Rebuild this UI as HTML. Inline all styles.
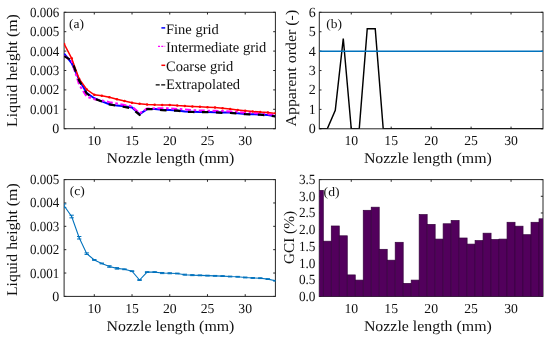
<!DOCTYPE html>
<html><head><meta charset="utf-8"><style>
html,body{margin:0;padding:0;background:#fff;width:550px;height:341px;overflow:hidden;position:relative}
svg{text-rendering:geometricPrecision;will-change:transform}
</style></head><body>
<svg width="550" height="341" viewBox="0 0 550 341" style="position:absolute;left:0;top:0">
<g font-family='"Liberation Serif", serif' fill="#111">
<rect x="64.10" y="12.30" width="211.30" height="116.40" fill="none" stroke="#262626" stroke-width="1"/>
<line x1="94.29" y1="128.70" x2="94.29" y2="126.50" stroke="#262626" stroke-width="1"/>
<line x1="94.29" y1="12.30" x2="94.29" y2="14.50" stroke="#262626" stroke-width="1"/>
<text x="94.29" y="145.10" text-anchor="middle" font-size="13.7">10</text>
<line x1="132.02" y1="128.70" x2="132.02" y2="126.50" stroke="#262626" stroke-width="1"/>
<line x1="132.02" y1="12.30" x2="132.02" y2="14.50" stroke="#262626" stroke-width="1"/>
<text x="132.02" y="145.10" text-anchor="middle" font-size="13.7">15</text>
<line x1="169.75" y1="128.70" x2="169.75" y2="126.50" stroke="#262626" stroke-width="1"/>
<line x1="169.75" y1="12.30" x2="169.75" y2="14.50" stroke="#262626" stroke-width="1"/>
<text x="169.75" y="145.10" text-anchor="middle" font-size="13.7">20</text>
<line x1="207.48" y1="128.70" x2="207.48" y2="126.50" stroke="#262626" stroke-width="1"/>
<line x1="207.48" y1="12.30" x2="207.48" y2="14.50" stroke="#262626" stroke-width="1"/>
<text x="207.48" y="145.10" text-anchor="middle" font-size="13.7">25</text>
<line x1="245.21" y1="128.70" x2="245.21" y2="126.50" stroke="#262626" stroke-width="1"/>
<line x1="245.21" y1="12.30" x2="245.21" y2="14.50" stroke="#262626" stroke-width="1"/>
<text x="245.21" y="145.10" text-anchor="middle" font-size="13.7">30</text>
<line x1="64.10" y1="128.70" x2="66.30" y2="128.70" stroke="#262626" stroke-width="1"/>
<line x1="275.40" y1="128.70" x2="273.20" y2="128.70" stroke="#262626" stroke-width="1"/>
<text x="59.30" y="133.20" text-anchor="end" font-size="14.0">0</text>
<line x1="64.10" y1="109.30" x2="66.30" y2="109.30" stroke="#262626" stroke-width="1"/>
<line x1="275.40" y1="109.30" x2="273.20" y2="109.30" stroke="#262626" stroke-width="1"/>
<text x="59.30" y="113.80" text-anchor="end" font-size="14.0" textLength="29.30" lengthAdjust="spacingAndGlyphs">0.001</text>
<line x1="64.10" y1="89.90" x2="66.30" y2="89.90" stroke="#262626" stroke-width="1"/>
<line x1="275.40" y1="89.90" x2="273.20" y2="89.90" stroke="#262626" stroke-width="1"/>
<text x="59.30" y="94.40" text-anchor="end" font-size="14.0" textLength="29.30" lengthAdjust="spacingAndGlyphs">0.002</text>
<line x1="64.10" y1="70.50" x2="66.30" y2="70.50" stroke="#262626" stroke-width="1"/>
<line x1="275.40" y1="70.50" x2="273.20" y2="70.50" stroke="#262626" stroke-width="1"/>
<text x="59.30" y="75.00" text-anchor="end" font-size="14.0" textLength="29.30" lengthAdjust="spacingAndGlyphs">0.003</text>
<line x1="64.10" y1="51.10" x2="66.30" y2="51.10" stroke="#262626" stroke-width="1"/>
<line x1="275.40" y1="51.10" x2="273.20" y2="51.10" stroke="#262626" stroke-width="1"/>
<text x="59.30" y="55.60" text-anchor="end" font-size="14.0" textLength="29.30" lengthAdjust="spacingAndGlyphs">0.004</text>
<line x1="64.10" y1="31.70" x2="66.30" y2="31.70" stroke="#262626" stroke-width="1"/>
<line x1="275.40" y1="31.70" x2="273.20" y2="31.70" stroke="#262626" stroke-width="1"/>
<text x="59.30" y="36.20" text-anchor="end" font-size="14.0" textLength="29.30" lengthAdjust="spacingAndGlyphs">0.005</text>
<line x1="64.10" y1="12.30" x2="66.30" y2="12.30" stroke="#262626" stroke-width="1"/>
<line x1="275.40" y1="12.30" x2="273.20" y2="12.30" stroke="#262626" stroke-width="1"/>
<text x="59.30" y="16.80" text-anchor="end" font-size="14.0" textLength="29.30" lengthAdjust="spacingAndGlyphs">0.006</text>
<text x="106.50" y="162.90" font-size="15" textLength="127.90" lengthAdjust="spacingAndGlyphs">Nozzle length (mm)</text>
<clipPath id="ca"><rect x="64.1" y="12.3" width="211.29999999999998" height="116.39999999999999"/></clipPath>
<g clip-path="url(#ca)">
<polyline points="64.10,53.62 71.65,63.13 79.19,79.81 86.74,93.00 94.29,98.24 101.83,101.35 109.38,104.26 116.92,105.61 124.47,106.20 132.02,107.55 139.56,114.34 147.11,109.11 154.66,109.11 162.20,109.69 169.75,110.08 177.30,110.46 184.84,111.43 192.39,111.63 199.94,112.02 207.48,112.02 215.03,112.21 222.57,112.40 230.12,112.60 237.67,113.37 245.21,113.96 252.76,114.15 260.31,114.54 267.85,114.93 275.40,116.28" fill="none" stroke="#0000ff" stroke-width="2"/>
<polyline points="64.10,55.76 71.65,60.99 79.19,84.86 86.74,96.69 94.29,99.21 101.83,100.38 109.38,102.12 116.92,103.48 124.47,105.03 132.02,106.39 139.56,113.37 147.11,108.52 154.66,108.33 162.20,108.14 169.75,108.33 177.30,108.91 184.84,109.49 192.39,110.08 199.94,110.46 207.48,110.66 215.03,110.85 222.57,111.05 230.12,111.43 237.67,112.02 245.21,112.79 252.76,112.99 260.31,113.57 267.85,114.15 275.40,114.73" fill="none" stroke="#ff00ff" stroke-width="2" stroke-dasharray="6 2.6 2.6 2.6"/>
<polyline points="64.10,43.92 71.65,58.28 79.19,79.04 86.74,89.51 94.29,94.75 101.83,95.72 109.38,97.27 116.92,99.21 124.47,100.96 132.02,102.70 139.56,103.87 147.11,104.45 154.66,104.84 162.20,105.03 169.75,105.03 177.30,105.61 184.84,106.00 192.39,106.39 199.94,106.78 207.48,107.17 215.03,107.55 222.57,108.33 230.12,109.11 237.67,109.88 245.21,110.66 252.76,111.43 260.31,112.02 267.85,112.40 275.40,113.37" fill="none" stroke="#ff0000" stroke-width="1.5"/>
<circle cx="64.10" cy="43.92" r="1.25" fill="#ff0000"/>
<circle cx="71.65" cy="58.28" r="1.25" fill="#ff0000"/>
<circle cx="79.19" cy="79.04" r="1.25" fill="#ff0000"/>
<circle cx="86.74" cy="89.51" r="1.25" fill="#ff0000"/>
<circle cx="94.29" cy="94.75" r="1.25" fill="#ff0000"/>
<circle cx="101.83" cy="95.72" r="1.25" fill="#ff0000"/>
<circle cx="109.38" cy="97.27" r="1.25" fill="#ff0000"/>
<circle cx="116.92" cy="99.21" r="1.25" fill="#ff0000"/>
<circle cx="124.47" cy="100.96" r="1.25" fill="#ff0000"/>
<circle cx="132.02" cy="102.70" r="1.25" fill="#ff0000"/>
<circle cx="139.56" cy="103.87" r="1.25" fill="#ff0000"/>
<circle cx="147.11" cy="104.45" r="1.25" fill="#ff0000"/>
<circle cx="154.66" cy="104.84" r="1.25" fill="#ff0000"/>
<circle cx="162.20" cy="105.03" r="1.25" fill="#ff0000"/>
<circle cx="169.75" cy="105.03" r="1.25" fill="#ff0000"/>
<circle cx="177.30" cy="105.61" r="1.25" fill="#ff0000"/>
<circle cx="184.84" cy="106.00" r="1.25" fill="#ff0000"/>
<circle cx="192.39" cy="106.39" r="1.25" fill="#ff0000"/>
<circle cx="199.94" cy="106.78" r="1.25" fill="#ff0000"/>
<circle cx="207.48" cy="107.17" r="1.25" fill="#ff0000"/>
<circle cx="215.03" cy="107.55" r="1.25" fill="#ff0000"/>
<circle cx="222.57" cy="108.33" r="1.25" fill="#ff0000"/>
<circle cx="230.12" cy="109.11" r="1.25" fill="#ff0000"/>
<circle cx="237.67" cy="109.88" r="1.25" fill="#ff0000"/>
<circle cx="245.21" cy="110.66" r="1.25" fill="#ff0000"/>
<circle cx="252.76" cy="111.43" r="1.25" fill="#ff0000"/>
<circle cx="260.31" cy="112.02" r="1.25" fill="#ff0000"/>
<circle cx="267.85" cy="112.40" r="1.25" fill="#ff0000"/>
<circle cx="275.40" cy="113.37" r="1.25" fill="#ff0000"/>
<polyline points="64.10,56.14 71.65,60.41 79.19,80.78 86.74,93.59 94.29,98.63 101.83,101.54 109.38,104.45 116.92,105.81 124.47,106.97 132.02,108.33 139.56,114.93 147.11,109.11 154.66,109.11 162.20,110.08 169.75,110.46 177.30,110.66 184.84,111.63 192.39,112.02 199.94,112.21 207.48,112.21 215.03,112.40 222.57,112.79 230.12,112.99 237.67,113.57 245.21,114.15 252.76,114.34 260.31,114.73 267.85,115.31 275.40,116.48" fill="none" stroke="#000000" stroke-width="2.2" stroke-dasharray="6.5 7.5"/>
</g>
<text x="69" y="28.4" font-size="13" textLength="15.00" lengthAdjust="spacingAndGlyphs">(a)</text>
<line x1="161.4" y1="27.90" x2="165.2" y2="27.90" stroke="#0000ff" stroke-width="1.5"/>
<text x="166" y="33.50" font-size="14.5">Fine grid</text>
<line x1="158" y1="46.40" x2="165.2" y2="46.40" stroke="#ff00ff" stroke-width="1.3" stroke-dasharray="2 1.3"/>
<text x="166" y="52.40" font-size="14.5">Intermediate grid</text>
<line x1="161.4" y1="65.30" x2="165.2" y2="65.30" stroke="#ff0000" stroke-width="1.5"/>
<text x="166" y="70.90" font-size="14.5">Coarse grid</text>
<line x1="155.7" y1="84.80" x2="165.2" y2="84.80" stroke="#000" stroke-width="1.3" stroke-dasharray="4 1.5"/>
<text x="166" y="89.00" font-size="14.5">Extrapolated</text>
<text transform="translate(16.5,70.5) rotate(-90)" text-anchor="middle" font-size="15" textLength="112.80" lengthAdjust="spacingAndGlyphs">Liquid height (m)</text>
<rect x="319.30" y="12.30" width="223.70" height="116.50" fill="none" stroke="#262626" stroke-width="1"/>
<line x1="351.26" y1="128.80" x2="351.26" y2="126.60" stroke="#262626" stroke-width="1"/>
<line x1="351.26" y1="12.30" x2="351.26" y2="14.50" stroke="#262626" stroke-width="1"/>
<text x="351.26" y="145.20" text-anchor="middle" font-size="13.7">10</text>
<line x1="391.20" y1="128.80" x2="391.20" y2="126.60" stroke="#262626" stroke-width="1"/>
<line x1="391.20" y1="12.30" x2="391.20" y2="14.50" stroke="#262626" stroke-width="1"/>
<text x="391.20" y="145.20" text-anchor="middle" font-size="13.7">15</text>
<line x1="431.15" y1="128.80" x2="431.15" y2="126.60" stroke="#262626" stroke-width="1"/>
<line x1="431.15" y1="12.30" x2="431.15" y2="14.50" stroke="#262626" stroke-width="1"/>
<text x="431.15" y="145.20" text-anchor="middle" font-size="13.7">20</text>
<line x1="471.10" y1="128.80" x2="471.10" y2="126.60" stroke="#262626" stroke-width="1"/>
<line x1="471.10" y1="12.30" x2="471.10" y2="14.50" stroke="#262626" stroke-width="1"/>
<text x="471.10" y="145.20" text-anchor="middle" font-size="13.7">25</text>
<line x1="511.04" y1="128.80" x2="511.04" y2="126.60" stroke="#262626" stroke-width="1"/>
<line x1="511.04" y1="12.30" x2="511.04" y2="14.50" stroke="#262626" stroke-width="1"/>
<text x="511.04" y="145.20" text-anchor="middle" font-size="13.7">30</text>
<line x1="319.30" y1="128.80" x2="321.50" y2="128.80" stroke="#262626" stroke-width="1"/>
<line x1="543.00" y1="128.80" x2="540.80" y2="128.80" stroke="#262626" stroke-width="1"/>
<text x="315.70" y="133.30" text-anchor="end" font-size="14.0">0</text>
<line x1="319.30" y1="109.38" x2="321.50" y2="109.38" stroke="#262626" stroke-width="1"/>
<line x1="543.00" y1="109.38" x2="540.80" y2="109.38" stroke="#262626" stroke-width="1"/>
<text x="315.70" y="113.88" text-anchor="end" font-size="14.0">1</text>
<line x1="319.30" y1="89.97" x2="321.50" y2="89.97" stroke="#262626" stroke-width="1"/>
<line x1="543.00" y1="89.97" x2="540.80" y2="89.97" stroke="#262626" stroke-width="1"/>
<text x="315.70" y="94.47" text-anchor="end" font-size="14.0">2</text>
<line x1="319.30" y1="70.55" x2="321.50" y2="70.55" stroke="#262626" stroke-width="1"/>
<line x1="543.00" y1="70.55" x2="540.80" y2="70.55" stroke="#262626" stroke-width="1"/>
<text x="315.70" y="75.05" text-anchor="end" font-size="14.0">3</text>
<line x1="319.30" y1="51.13" x2="321.50" y2="51.13" stroke="#262626" stroke-width="1"/>
<line x1="543.00" y1="51.13" x2="540.80" y2="51.13" stroke="#262626" stroke-width="1"/>
<text x="315.70" y="55.63" text-anchor="end" font-size="14.0">4</text>
<line x1="319.30" y1="31.72" x2="321.50" y2="31.72" stroke="#262626" stroke-width="1"/>
<line x1="543.00" y1="31.72" x2="540.80" y2="31.72" stroke="#262626" stroke-width="1"/>
<text x="315.70" y="36.22" text-anchor="end" font-size="14.0">5</text>
<line x1="319.30" y1="12.30" x2="321.50" y2="12.30" stroke="#262626" stroke-width="1"/>
<line x1="543.00" y1="12.30" x2="540.80" y2="12.30" stroke="#262626" stroke-width="1"/>
<text x="315.70" y="16.80" text-anchor="end" font-size="14.0">6</text>
<text x="363.90" y="163.00" font-size="15" textLength="127.90" lengthAdjust="spacingAndGlyphs">Nozzle length (mm)</text>
<clipPath id="cb"><rect x="319.3" y="12.3" width="223.7" height="116.50000000000001"/></clipPath>
<g clip-path="url(#cb)">
<polyline points="319.30,128.80 327.29,128.80 335.28,110.35 343.27,38.51 351.26,128.80 359.25,128.80 367.24,28.80 375.23,28.80 383.21,128.80 391.20,128.80 399.19,128.80 407.18,128.80 415.17,128.80 423.16,128.80 431.15,128.80 439.14,128.80 447.13,128.80 455.12,128.80 463.11,128.80 471.10,128.80 479.09,128.80 487.07,128.80 495.06,128.80 503.05,128.80 511.04,128.80 519.03,128.80 527.02,128.80 535.01,128.80 543.00,128.80" fill="none" stroke="#000" stroke-width="1.45"/>
<line x1="319.3" y1="51.13" x2="543" y2="51.13" stroke="#0072bd" stroke-width="1.5"/>
</g>
<text x="326.3" y="28.4" font-size="13" textLength="15.70" lengthAdjust="spacingAndGlyphs">(b)</text>
<text transform="translate(295.5,68.2) rotate(-90)" text-anchor="middle" font-size="15" textLength="116.80" lengthAdjust="spacingAndGlyphs">Apparent order (-)</text>
<rect x="64.10" y="179.60" width="211.30" height="116.80" fill="none" stroke="#262626" stroke-width="1"/>
<line x1="94.29" y1="296.40" x2="94.29" y2="294.20" stroke="#262626" stroke-width="1"/>
<line x1="94.29" y1="179.60" x2="94.29" y2="181.80" stroke="#262626" stroke-width="1"/>
<text x="94.29" y="312.80" text-anchor="middle" font-size="13.7">10</text>
<line x1="132.02" y1="296.40" x2="132.02" y2="294.20" stroke="#262626" stroke-width="1"/>
<line x1="132.02" y1="179.60" x2="132.02" y2="181.80" stroke="#262626" stroke-width="1"/>
<text x="132.02" y="312.80" text-anchor="middle" font-size="13.7">15</text>
<line x1="169.75" y1="296.40" x2="169.75" y2="294.20" stroke="#262626" stroke-width="1"/>
<line x1="169.75" y1="179.60" x2="169.75" y2="181.80" stroke="#262626" stroke-width="1"/>
<text x="169.75" y="312.80" text-anchor="middle" font-size="13.7">20</text>
<line x1="207.48" y1="296.40" x2="207.48" y2="294.20" stroke="#262626" stroke-width="1"/>
<line x1="207.48" y1="179.60" x2="207.48" y2="181.80" stroke="#262626" stroke-width="1"/>
<text x="207.48" y="312.80" text-anchor="middle" font-size="13.7">25</text>
<line x1="245.21" y1="296.40" x2="245.21" y2="294.20" stroke="#262626" stroke-width="1"/>
<line x1="245.21" y1="179.60" x2="245.21" y2="181.80" stroke="#262626" stroke-width="1"/>
<text x="245.21" y="312.80" text-anchor="middle" font-size="13.7">30</text>
<line x1="64.10" y1="296.40" x2="66.30" y2="296.40" stroke="#262626" stroke-width="1"/>
<line x1="275.40" y1="296.40" x2="273.20" y2="296.40" stroke="#262626" stroke-width="1"/>
<text x="59.30" y="300.90" text-anchor="end" font-size="14.0">0</text>
<line x1="64.10" y1="273.04" x2="66.30" y2="273.04" stroke="#262626" stroke-width="1"/>
<line x1="275.40" y1="273.04" x2="273.20" y2="273.04" stroke="#262626" stroke-width="1"/>
<text x="59.30" y="277.54" text-anchor="end" font-size="14.0" textLength="29.30" lengthAdjust="spacingAndGlyphs">0.001</text>
<line x1="64.10" y1="249.68" x2="66.30" y2="249.68" stroke="#262626" stroke-width="1"/>
<line x1="275.40" y1="249.68" x2="273.20" y2="249.68" stroke="#262626" stroke-width="1"/>
<text x="59.30" y="254.18" text-anchor="end" font-size="14.0" textLength="29.30" lengthAdjust="spacingAndGlyphs">0.002</text>
<line x1="64.10" y1="226.32" x2="66.30" y2="226.32" stroke="#262626" stroke-width="1"/>
<line x1="275.40" y1="226.32" x2="273.20" y2="226.32" stroke="#262626" stroke-width="1"/>
<text x="59.30" y="230.82" text-anchor="end" font-size="14.0" textLength="29.30" lengthAdjust="spacingAndGlyphs">0.003</text>
<line x1="64.10" y1="202.96" x2="66.30" y2="202.96" stroke="#262626" stroke-width="1"/>
<line x1="275.40" y1="202.96" x2="273.20" y2="202.96" stroke="#262626" stroke-width="1"/>
<text x="59.30" y="207.46" text-anchor="end" font-size="14.0" textLength="29.30" lengthAdjust="spacingAndGlyphs">0.004</text>
<line x1="64.10" y1="179.60" x2="66.30" y2="179.60" stroke="#262626" stroke-width="1"/>
<line x1="275.40" y1="179.60" x2="273.20" y2="179.60" stroke="#262626" stroke-width="1"/>
<text x="59.30" y="184.10" text-anchor="end" font-size="14.0" textLength="29.30" lengthAdjust="spacingAndGlyphs">0.005</text>
<text x="106.50" y="330.60" font-size="15" textLength="127.90" lengthAdjust="spacingAndGlyphs">Nozzle length (mm)</text>
<clipPath id="cc"><rect x="64.1" y="179.6" width="211.29999999999998" height="116.79999999999998"/></clipPath>
<g clip-path="url(#cc)">
<polyline points="64.10,205.76 71.65,216.51 79.19,237.77 86.74,253.65 94.29,259.96 101.83,263.46 109.38,266.50 116.92,268.37 124.47,269.30 132.02,271.17 139.56,280.05 147.11,272.11 154.66,272.11 162.20,273.04 169.75,273.27 177.30,273.51 184.84,274.68 192.39,275.14 199.94,275.38 207.48,275.61 215.03,275.84 222.57,276.08 230.12,276.54 237.67,276.78 245.21,277.48 252.76,277.95 260.31,278.18 267.85,279.11 275.40,280.75" fill="none" stroke="#0072bd" stroke-width="1.1"/>
<path d="M64.10 203.96V207.56M61.90 203.96H66.30M61.90 207.56H66.30" stroke="#0072bd" stroke-width="1" fill="none"/>
<path d="M71.65 215.19V217.83M69.45 215.19H73.85M69.45 217.83H73.85" stroke="#0072bd" stroke-width="1" fill="none"/>
<path d="M79.19 236.53V239.01M76.99 236.53H81.39M76.99 239.01H81.39" stroke="#0072bd" stroke-width="1" fill="none"/>
<path d="M86.74 252.87V254.43M84.54 252.87H88.94M84.54 254.43H88.94" stroke="#0072bd" stroke-width="1" fill="none"/>
<path d="M94.29 259.56V260.36M92.09 259.56H96.49M92.09 260.36H96.49" stroke="#0072bd" stroke-width="1" fill="none"/>
<path d="M101.83 263.06V263.86M99.63 263.06H104.03M99.63 263.86H104.03" stroke="#0072bd" stroke-width="1" fill="none"/>
<path d="M109.38 265.73V267.27M107.18 265.73H111.58M107.18 267.27H111.58" stroke="#0072bd" stroke-width="1" fill="none"/>
<path d="M116.92 267.62V269.12M114.72 267.62H119.12M114.72 269.12H119.12" stroke="#0072bd" stroke-width="1" fill="none"/>
<path d="M124.47 268.90V269.70M122.27 268.90H126.67M122.27 269.70H126.67" stroke="#0072bd" stroke-width="1" fill="none"/>
<path d="M132.02 270.77V271.57M129.82 270.77H134.22M129.82 271.57H134.22" stroke="#0072bd" stroke-width="1" fill="none"/>
<path d="M139.56 279.65V280.45M137.36 279.65H141.76M137.36 280.45H141.76" stroke="#0072bd" stroke-width="1" fill="none"/>
<path d="M147.11 271.71V272.51M144.91 271.71H149.31M144.91 272.51H149.31" stroke="#0072bd" stroke-width="1" fill="none"/>
<path d="M154.66 271.71V272.51M152.46 271.71H156.86M152.46 272.51H156.86" stroke="#0072bd" stroke-width="1" fill="none"/>
<path d="M162.20 272.47V273.61M160.00 272.47H164.40M160.00 273.61H164.40" stroke="#0072bd" stroke-width="1" fill="none"/>
<path d="M169.75 272.77V273.77M167.55 272.77H171.95M167.55 273.77H171.95" stroke="#0072bd" stroke-width="1" fill="none"/>
<path d="M177.30 273.11V273.91M175.10 273.11H179.50M175.10 273.91H179.50" stroke="#0072bd" stroke-width="1" fill="none"/>
<path d="M184.84 274.20V275.15M182.64 274.20H187.04M182.64 275.15H187.04" stroke="#0072bd" stroke-width="1" fill="none"/>
<path d="M192.39 274.66V275.63M190.19 274.66H194.59M190.19 275.63H194.59" stroke="#0072bd" stroke-width="1" fill="none"/>
<path d="M199.94 274.98V275.78M197.74 274.98H202.14M197.74 275.78H202.14" stroke="#0072bd" stroke-width="1" fill="none"/>
<path d="M207.48 275.21V276.01M205.28 275.21H209.68M205.28 276.01H209.68" stroke="#0072bd" stroke-width="1" fill="none"/>
<path d="M215.03 275.44V276.24M212.83 275.44H217.23M212.83 276.24H217.23" stroke="#0072bd" stroke-width="1" fill="none"/>
<path d="M222.57 275.68V276.48M220.38 275.68H224.77M220.38 276.48H224.77" stroke="#0072bd" stroke-width="1" fill="none"/>
<path d="M230.12 276.14V276.94M227.92 276.14H232.32M227.92 276.94H232.32" stroke="#0072bd" stroke-width="1" fill="none"/>
<path d="M237.67 276.38V277.18M235.47 276.38H239.87M235.47 277.18H239.87" stroke="#0072bd" stroke-width="1" fill="none"/>
<path d="M245.21 277.06V277.90M243.01 277.06H247.41M243.01 277.90H247.41" stroke="#0072bd" stroke-width="1" fill="none"/>
<path d="M252.76 277.55V278.35M250.56 277.55H254.96M250.56 278.35H254.96" stroke="#0072bd" stroke-width="1" fill="none"/>
<path d="M260.31 277.78V278.58M258.11 277.78H262.51M258.11 278.58H262.51" stroke="#0072bd" stroke-width="1" fill="none"/>
<path d="M267.85 278.71V279.51M265.65 278.71H270.05M265.65 279.51H270.05" stroke="#0072bd" stroke-width="1" fill="none"/>
<path d="M275.40 280.35V281.15M273.20 280.35H277.60M273.20 281.15H277.60" stroke="#0072bd" stroke-width="1" fill="none"/>
</g>
<text x="69.7" y="195.4" font-size="13" textLength="15.00" lengthAdjust="spacingAndGlyphs">(c)</text>
<text transform="translate(16.8,239.7) rotate(-90)" text-anchor="middle" font-size="15" textLength="112.80" lengthAdjust="spacingAndGlyphs">Liquid height (m)</text>
<rect x="319.30" y="179.60" width="223.70" height="116.80" fill="none" stroke="#262626" stroke-width="1"/>
<line x1="351.26" y1="296.40" x2="351.26" y2="294.20" stroke="#262626" stroke-width="1"/>
<line x1="351.26" y1="179.60" x2="351.26" y2="181.80" stroke="#262626" stroke-width="1"/>
<text x="351.26" y="312.80" text-anchor="middle" font-size="13.7">10</text>
<line x1="391.20" y1="296.40" x2="391.20" y2="294.20" stroke="#262626" stroke-width="1"/>
<line x1="391.20" y1="179.60" x2="391.20" y2="181.80" stroke="#262626" stroke-width="1"/>
<text x="391.20" y="312.80" text-anchor="middle" font-size="13.7">15</text>
<line x1="431.15" y1="296.40" x2="431.15" y2="294.20" stroke="#262626" stroke-width="1"/>
<line x1="431.15" y1="179.60" x2="431.15" y2="181.80" stroke="#262626" stroke-width="1"/>
<text x="431.15" y="312.80" text-anchor="middle" font-size="13.7">20</text>
<line x1="471.10" y1="296.40" x2="471.10" y2="294.20" stroke="#262626" stroke-width="1"/>
<line x1="471.10" y1="179.60" x2="471.10" y2="181.80" stroke="#262626" stroke-width="1"/>
<text x="471.10" y="312.80" text-anchor="middle" font-size="13.7">25</text>
<line x1="511.04" y1="296.40" x2="511.04" y2="294.20" stroke="#262626" stroke-width="1"/>
<line x1="511.04" y1="179.60" x2="511.04" y2="181.80" stroke="#262626" stroke-width="1"/>
<text x="511.04" y="312.80" text-anchor="middle" font-size="13.7">30</text>
<line x1="319.30" y1="296.40" x2="321.50" y2="296.40" stroke="#262626" stroke-width="1"/>
<line x1="543.00" y1="296.40" x2="540.80" y2="296.40" stroke="#262626" stroke-width="1"/>
<text x="315.50" y="300.90" text-anchor="end" font-size="14.0" textLength="16.60" lengthAdjust="spacingAndGlyphs">0.0</text>
<line x1="319.30" y1="279.71" x2="321.50" y2="279.71" stroke="#262626" stroke-width="1"/>
<line x1="543.00" y1="279.71" x2="540.80" y2="279.71" stroke="#262626" stroke-width="1"/>
<text x="315.50" y="284.21" text-anchor="end" font-size="14.0" textLength="16.60" lengthAdjust="spacingAndGlyphs">0.5</text>
<line x1="319.30" y1="263.03" x2="321.50" y2="263.03" stroke="#262626" stroke-width="1"/>
<line x1="543.00" y1="263.03" x2="540.80" y2="263.03" stroke="#262626" stroke-width="1"/>
<text x="315.50" y="267.53" text-anchor="end" font-size="14.0" textLength="16.60" lengthAdjust="spacingAndGlyphs">1.0</text>
<line x1="319.30" y1="246.34" x2="321.50" y2="246.34" stroke="#262626" stroke-width="1"/>
<line x1="543.00" y1="246.34" x2="540.80" y2="246.34" stroke="#262626" stroke-width="1"/>
<text x="315.50" y="250.84" text-anchor="end" font-size="14.0" textLength="16.60" lengthAdjust="spacingAndGlyphs">1.5</text>
<line x1="319.30" y1="229.66" x2="321.50" y2="229.66" stroke="#262626" stroke-width="1"/>
<line x1="543.00" y1="229.66" x2="540.80" y2="229.66" stroke="#262626" stroke-width="1"/>
<text x="315.50" y="234.16" text-anchor="end" font-size="14.0" textLength="16.60" lengthAdjust="spacingAndGlyphs">2.0</text>
<line x1="319.30" y1="212.97" x2="321.50" y2="212.97" stroke="#262626" stroke-width="1"/>
<line x1="543.00" y1="212.97" x2="540.80" y2="212.97" stroke="#262626" stroke-width="1"/>
<text x="315.50" y="217.47" text-anchor="end" font-size="14.0" textLength="16.60" lengthAdjust="spacingAndGlyphs">2.5</text>
<line x1="319.30" y1="196.29" x2="321.50" y2="196.29" stroke="#262626" stroke-width="1"/>
<line x1="543.00" y1="196.29" x2="540.80" y2="196.29" stroke="#262626" stroke-width="1"/>
<text x="315.50" y="200.79" text-anchor="end" font-size="14.0" textLength="16.60" lengthAdjust="spacingAndGlyphs">3.0</text>
<line x1="319.30" y1="179.60" x2="321.50" y2="179.60" stroke="#262626" stroke-width="1"/>
<line x1="543.00" y1="179.60" x2="540.80" y2="179.60" stroke="#262626" stroke-width="1"/>
<text x="315.50" y="184.10" text-anchor="end" font-size="14.0" textLength="16.60" lengthAdjust="spacingAndGlyphs">3.5</text>
<text x="363.90" y="330.60" font-size="15" textLength="127.90" lengthAdjust="spacingAndGlyphs">Nozzle length (mm)</text>
<clipPath id="cd"><rect x="319.3" y="179.6" width="223.7" height="116.79999999999998"/></clipPath>
<g clip-path="url(#cd)">
<rect x="315.31" y="190.38" width="7.99" height="106.02" fill="#52005c" stroke="#35003d" stroke-width="0.7"/>
<rect x="323.29" y="241.20" width="7.99" height="55.20" fill="#52005c" stroke="#35003d" stroke-width="0.7"/>
<rect x="331.28" y="225.99" width="7.99" height="70.41" fill="#52005c" stroke="#35003d" stroke-width="0.7"/>
<rect x="339.27" y="235.80" width="7.99" height="60.60" fill="#52005c" stroke="#35003d" stroke-width="0.7"/>
<rect x="347.26" y="274.91" width="7.99" height="21.49" fill="#52005c" stroke="#35003d" stroke-width="0.7"/>
<rect x="355.25" y="280.11" width="7.99" height="16.29" fill="#52005c" stroke="#35003d" stroke-width="0.7"/>
<rect x="363.24" y="210.30" width="7.99" height="86.10" fill="#52005c" stroke="#35003d" stroke-width="0.7"/>
<rect x="371.23" y="207.20" width="7.99" height="89.20" fill="#52005c" stroke="#35003d" stroke-width="0.7"/>
<rect x="379.22" y="249.31" width="7.99" height="47.09" fill="#52005c" stroke="#35003d" stroke-width="0.7"/>
<rect x="387.21" y="260.19" width="7.99" height="36.21" fill="#52005c" stroke="#35003d" stroke-width="0.7"/>
<rect x="395.20" y="242.30" width="7.99" height="54.10" fill="#52005c" stroke="#35003d" stroke-width="0.7"/>
<rect x="403.19" y="283.39" width="7.99" height="13.01" fill="#52005c" stroke="#35003d" stroke-width="0.7"/>
<rect x="411.18" y="280.11" width="7.99" height="16.29" fill="#52005c" stroke="#35003d" stroke-width="0.7"/>
<rect x="419.17" y="214.61" width="7.99" height="81.79" fill="#52005c" stroke="#35003d" stroke-width="0.7"/>
<rect x="427.16" y="224.38" width="7.99" height="72.02" fill="#52005c" stroke="#35003d" stroke-width="0.7"/>
<rect x="435.14" y="239.10" width="7.99" height="57.30" fill="#52005c" stroke="#35003d" stroke-width="0.7"/>
<rect x="443.13" y="223.78" width="7.99" height="72.62" fill="#52005c" stroke="#35003d" stroke-width="0.7"/>
<rect x="451.12" y="220.51" width="7.99" height="75.89" fill="#52005c" stroke="#35003d" stroke-width="0.7"/>
<rect x="459.11" y="238.00" width="7.99" height="58.40" fill="#52005c" stroke="#35003d" stroke-width="0.7"/>
<rect x="467.10" y="244.11" width="7.99" height="52.29" fill="#52005c" stroke="#35003d" stroke-width="0.7"/>
<rect x="475.09" y="240.60" width="7.99" height="55.80" fill="#52005c" stroke="#35003d" stroke-width="0.7"/>
<rect x="483.08" y="233.19" width="7.99" height="63.21" fill="#52005c" stroke="#35003d" stroke-width="0.7"/>
<rect x="491.07" y="239.50" width="7.99" height="56.90" fill="#52005c" stroke="#35003d" stroke-width="0.7"/>
<rect x="499.06" y="239.10" width="7.99" height="57.30" fill="#52005c" stroke="#35003d" stroke-width="0.7"/>
<rect x="507.05" y="222.28" width="7.99" height="74.12" fill="#52005c" stroke="#35003d" stroke-width="0.7"/>
<rect x="515.04" y="226.19" width="7.99" height="70.21" fill="#52005c" stroke="#35003d" stroke-width="0.7"/>
<rect x="523.03" y="234.70" width="7.99" height="61.70" fill="#52005c" stroke="#35003d" stroke-width="0.7"/>
<rect x="531.02" y="222.28" width="7.99" height="74.12" fill="#52005c" stroke="#35003d" stroke-width="0.7"/>
<rect x="539.01" y="218.81" width="7.99" height="77.59" fill="#52005c" stroke="#35003d" stroke-width="0.7"/>
</g>
<text x="323.6" y="195.6" font-size="13" textLength="15.90" lengthAdjust="spacingAndGlyphs">(d)</text>
<text transform="translate(293.5,237.5) rotate(-90)" text-anchor="middle" font-size="15" textLength="53.00" lengthAdjust="spacingAndGlyphs">GCI (%)</text>
</g></svg>
</body></html>
